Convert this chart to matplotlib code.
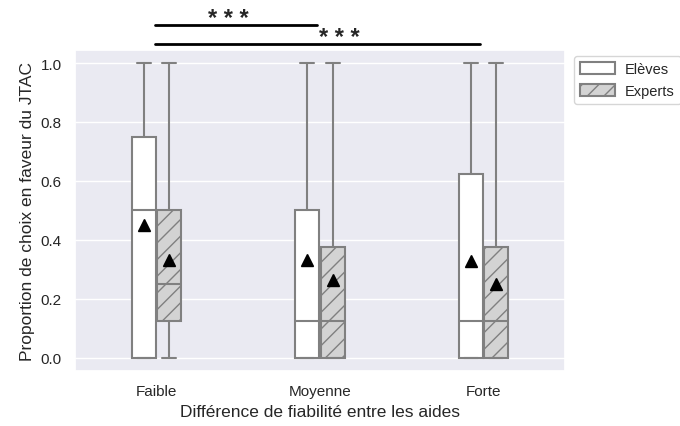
import matplotlib
matplotlib.use("Agg")
import matplotlib.pyplot as plt
import seaborn as sns
from matplotlib.patches import Patch

sns.set_theme(style="darkgrid")
plt.rcParams['font.family'] = ['Liberation Sans', 'DejaVu Sans']
plt.rcParams['hatch.linewidth'] = 1.0

categories = ['Faible', 'Moyenne', 'Forte']
groups = ['Elèves', 'Experts']

eleves_whislo = [0.0, 0.0, 0.0]
eleves_q1 = [0.0, 0.0, 0.0]
eleves_med = [0.5, 0.125, 0.125]
eleves_q3 = [0.75, 0.5, 0.625]
eleves_whishi = [1.0, 1.0, 1.0]
eleves_mean = [0.452, 0.333, 0.328]

experts_whislo = [0.0, 0.0, 0.0]
experts_q1 = [0.125, 0.0, 0.0]
experts_med = [0.25, 0.125, 0.125]
experts_q3 = [0.5, 0.375, 0.375]
experts_whishi = [1.0, 1.0, 1.0]
experts_mean = [0.333, 0.265, 0.25]

xlabel = 'Différence de fiabilité entre les aides'
ylabel = 'Proportion de choix en faveur du JTAC'
sig_text = '* * *'

gray = '#808080'
fig = plt.figure(figsize=(6.8, 4.27), dpi=100)
ax = fig.add_axes([0.110, 0.129, 0.721, 0.752])

def stats(wl, q1, med, q3, wh, mean):
    return [dict(whislo=a, q1=b, med=c, q3=d, whishi=e, mean=f, fliers=[])
            for a, b, c, d, e, f in zip(wl, q1, med, q3, wh, mean)]

st_el = stats(eleves_whislo, eleves_q1, eleves_med, eleves_q3, eleves_whishi, eleves_mean)
st_ex = stats(experts_whislo, experts_q1, experts_med, experts_q3, experts_whishi, experts_mean)

pos = list(range(len(categories)))
off = 0.078
w = 0.146
common = dict(widths=w, capwidths=0.085, patch_artist=True, showmeans=True,
              showfliers=False, manage_ticks=False,
              medianprops=dict(color=gray, lw=1.5),
              whiskerprops=dict(color=gray, lw=1.5),
              capprops=dict(color=gray, lw=1.5),
              meanprops=dict(marker='^', markerfacecolor='black', markeredgecolor='black', markersize=8))
b1 = ax.bxp(st_el, positions=[p - off for p in pos],
            boxprops=dict(facecolor='white', edgecolor=gray, lw=1.5), **common)
b2 = ax.bxp(st_ex, positions=[p + off for p in pos],
            boxprops=dict(facecolor='#d3d3d3', edgecolor=gray, lw=1.5, hatch='//'), **common)

ax.set_xlim(-0.5, 2.5)
ax.set_ylim(-0.045, 1.045)
ax.set_xticks(pos)
ax.set_xticklabels(categories)
ax.grid(False, axis='x')
ax.tick_params(labelsize=11)
ax.set_xlabel(xlabel, fontsize=12.5)
ax.set_ylabel(ylabel, fontsize=12.5)

# significance
ax.plot([-0.01, 0.98], [1.13, 1.13], color='black', lw=2, clip_on=False)
ax.plot([-0.01, 1.98], [1.064, 1.064], color='black', lw=2, clip_on=False)
ax.text(0.442, 1.15, sig_text, ha='center', va='center', fontsize=17,
        fontweight='bold', clip_on=False)
ax.text(1.12, 1.087, sig_text, ha='center', va='center', fontsize=17,
        fontweight='bold', clip_on=False)

handles = [Patch(facecolor='white', edgecolor=gray, lw=1.5),
           Patch(facecolor='#d3d3d3', edgecolor=gray, lw=1.5, hatch='//')]
leg = ax.legend(handles, groups, loc='upper left', bbox_to_anchor=(1.018, 0.98),
                fontsize=10.5, frameon=True, facecolor='white', edgecolor='#cccccc',
                borderaxespad=0, handlelength=2.4, handleheight=0.8,
                labelspacing=0.55, handletextpad=0.7)

fig.savefig('out.png', dpi=100)
